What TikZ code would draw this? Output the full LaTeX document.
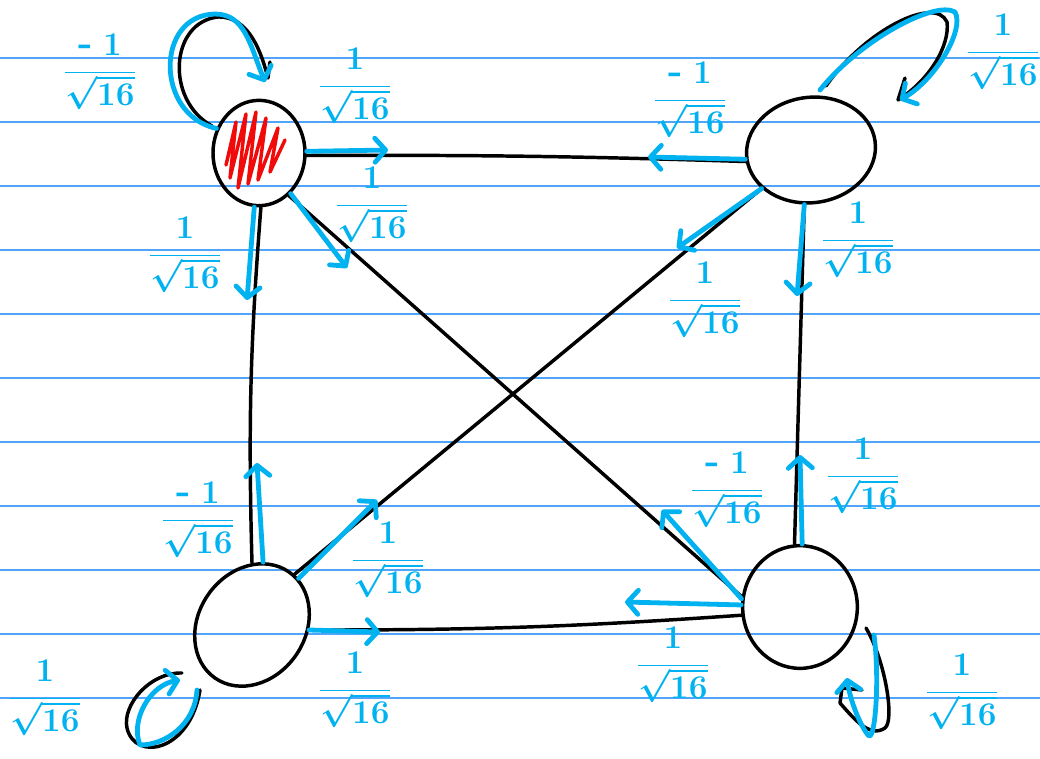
\documentclass[tikz,border=0pt]{standalone}
\usetikzlibrary{arrows.meta,shapes.geometric}
\definecolor{ink}{RGB}{0,178,240}
\definecolor{ruling}{RGB}{80,165,250}
\definecolor{scribble}{RGB}{240,10,10}
% amplitude written as a stacked fraction
\newcommand{\amp}[1]{$\displaystyle\frac{#1}{\sqrt{16}}$}
\newcommand{\negone}{\textbf{-}\;1}
\begin{document}
\begin{tikzpicture}[x=0.75pt,y=-0.75pt,
  state/.style={ellipse,draw=black,line width=2.6pt,inner sep=0pt},
  wire/.style={draw=black,line width=2.6pt,line cap=round},
  amp/.style={draw=ink,line width=3.6pt,line cap=round,line join=round,
    -{Straight Barb[length=8pt,width=18pt,round]}},
  loopk/.style={draw=black,line width=2.6pt,line cap=round,line join=round},
  lab/.style={text=ink,font=\fontsize{29}{34}\selectfont\boldmath,inner sep=0pt}
]
\useasboundingbox (0,0) rectangle (1040,758);
\fill[white] (0,0) rectangle (1040,758);

% ruled paper
\foreach \y in {58,122,...,698}
  \draw[ruling,line width=1pt] (0,\y) -- (1040,\y);

% the four states
\node[state,minimum width=69pt,minimum height=79pt] (tl) at (259,153) {};
\node[state,minimum width=97pt,minimum height=79pt,rotate=8] (tr) at (811,150) {};
\node[state,minimum width=97pt,minimum height=80pt,rotate=55] (bl) at (252,625) {};
\node[state,minimum width=86pt,minimum height=92pt] (br) at (800,607) {};

% red scribble filling the marked state
\draw[scribble,line width=2.6pt,line join=round,line cap=round]
  (226,165) -- (236,122) -- (230,178) -- (246,114) -- (238,188) -- (256,112)
  -- (248,184) -- (266,118) -- (258,180) -- (278,128) -- (270,172) -- (285,140);

% edges between the states
\draw[wire] (tl.-3) to[bend left=1] (tr.182);
\draw[wire] (tl.-88) to[bend right=3] (bl.35);
\draw[wire] (tl.-55) -- (br.170);
\draw[wire] (tr.-150) -- (bl.-5);
\draw[wire] (tr.-105) -- (br.95);
\draw[wire] (bl.-60) to[bend right=2] (br.188);

% black loop strokes under the blue ones
\draw[loopk] (212,126) .. controls (165,100) and (170,22) .. (218,17)
  .. controls (250,16) and (262,55) .. (268,78) -- (270,62);
\draw[loopk] (826,86) .. controls (865,30) and (935,-5) .. (947,22)
  .. controls (950,45) and (930,80) .. (898,100) -- (905,78);
\draw[loopk] (182,673) .. controls (150,672) and (122,705) .. (127,728)
  .. controls (135,762) and (190,752) .. (200,690);
\draw[loopk] (866,628) .. controls (885,660) and (895,720) .. (885,728)
  .. controls (870,738) and (855,720) .. (840,703) -- (842,688) -- (862,690);

% arrow tips of the blue amplitudes
\coordinate (a1) at (388,150);
\coordinate (a2) at (247,300);
\coordinate (a3) at (347,268);
\coordinate (b1) at (648,157);
\coordinate (b2) at (677,248);
\coordinate (b3) at (797,296);
\coordinate (c1) at (257,463);
\coordinate (c2) at (377,500);
\coordinate (c3) at (380,632);
\coordinate (d1) at (800,455);
\coordinate (d2) at (662,510);
\coordinate (d3) at (625,602);
\coordinate (la) at (265,82);
\coordinate (lb) at (900,100);
\coordinate (lc) at (180,680);
\coordinate (ld) at (847,678);

\draw[amp] (tl.2) -- (a1);
\draw[amp] (tl.-95) -- (a2);
\draw[amp] (tl.-52) -- (a3);
\draw[amp] (tr.180) -- (b1);
\draw[amp] (tr.-150) -- (b2);
\draw[amp] (tr.-105) -- (b3);
\draw[amp] (bl.25) -- (c1);
\draw[amp] (bl.-10) -- (c2);
\draw[amp] (bl.-60) -- (c3);
\draw[amp] (br.88) -- (d1);
\draw[amp] (br.172) -- (d2);
\draw[amp] (br.178) -- (d3);

% blue self loops
\draw[amp] (tl.150) .. controls (155,115) and (155,15) .. (215,14)
  .. controls (245,14) and (250,45) .. (la);
\draw[amp] (820,90) .. controls (860,40) and (935,0) .. (955,12)
  .. controls (965,30) and (935,80) .. (lb);
\draw[amp] (197,690) .. controls (195,725) and (165,745) .. (140,745)
  .. controls (130,720) and (150,685) .. (lc);
\draw[amp] (874,635) .. controls (880,680) and (875,745) .. (868,735)
  .. controls (860,725) and (850,700) .. (ld);

% amplitude labels
\node[lab] (t0) at (100,72)  {\amp{\negone}};
\node[lab] (t1) at (355,86)  {\amp{1}};
\node[lab] (t2) at (372,205) {\amp{1}};
\node[lab] (t3) at (185,255) {\amp{1}};
\node[lab] (r0) at (1003,52) {\amp{1}};
\node[lab] (r1) at (690,100) {\amp{\negone}};
\node[lab] (r2) at (705,300) {\amp{1}};
\node[lab] (r3) at (858,240) {\amp{1}};
\node[lab] (s0) at (45,698)  {\amp{1}};
\node[lab] (s1) at (198,520) {\amp{\negone}};
\node[lab] (s2) at (388,560) {\amp{1}};
\node[lab] (s3) at (355,690) {\amp{1}};
\node[lab] (u0) at (962,692) {\amp{1}};
\node[lab] (u1) at (727,490) {\amp{\negone}};
\node[lab] (u2) at (863,476) {\amp{1}};
\node[lab] (u3) at (673,665) {\amp{1}};
\end{tikzpicture}
\end{document}
